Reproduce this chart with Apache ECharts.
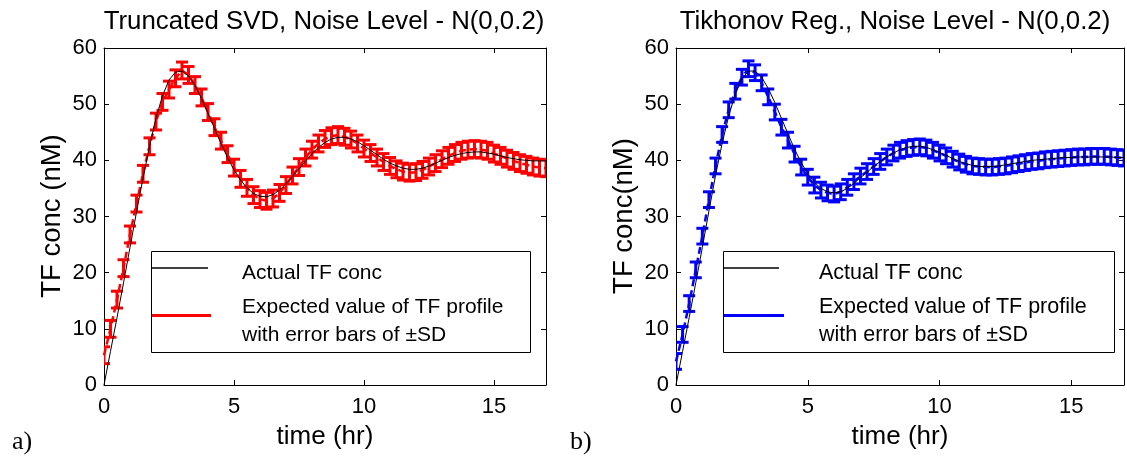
<!DOCTYPE html>
<html>
<head>
<meta charset="utf-8">
<script src="https://cdn.jsdelivr.net/npm/echarts@6/dist/echarts.min.js"></script>
<style>
html,body{margin:0;padding:0;background:#fff;}
#chart{width:1127px;height:465px;}
</style>
</head>
<body>
<div id="chart"></div>
<script>
// time grid (hr)
var timeHr = [0,0.25,0.5,0.75,1,1.25,1.5,1.75,2,2.25,2.5,2.75,3,3.25,3.5,3.75,4,4.25,4.5,4.75,5,5.25,5.5,5.75,6,6.25,6.5,6.75,7,7.25,7.5,7.75,8,8.25,8.5,8.75,9,9.25,9.5,9.75,10,10.25,10.5,10.75,11,11.25,11.5,11.75,12,12.25,12.5,12.75,13,13.25,13.5,13.75,14,14.25,14.5,14.75,15,15.25,15.5,15.75,16,16.25,16.5,16.75,17];

// a) Truncated SVD
var actualA = [0,6.0,12.0,18.2,24.5,30.8,36.8,42.5,47.5,51.5,54.3,55.7,55.9,55.0,53.3,51.0,48.4,45.7,43.0,40.5,38.3,36.5,35.1,34.1,33.6,33.5,33.9,34.7,35.8,37.1,38.5,39.9,41.2,42.3,43.2,43.8,44.1,44.1,43.8,43.3,42.6,41.8,41.0,40.2,39.5,39.0,38.6,38.4,38.4,38.6,39.0,39.5,40.0,40.5,40.9,41.2,41.4,41.5,41.5,41.3,41.1,40.8,40.5,40.3,40.1,40.0,39.9,39.9,39.9];
var expectedA = [5.3,10.0,15.2,20.8,26.8,32.3,37.6,42.5,46.9,50.4,52.6,54.6,56.0,55.2,53.4,51.2,48.6,45.9,43.5,41.1,38.7,36.7,35.1,33.8,33.1,32.8,33.2,34.2,35.6,37.3,38.8,40.5,41.9,43.0,43.8,44.3,44.5,44.2,43.7,43.0,42.1,41.3,40.5,39.7,39.0,38.4,38.0,37.8,37.9,38.3,38.9,39.5,40.2,40.8,41.3,41.7,41.9,42.0,41.9,41.7,41.2,40.8,40.3,39.9,39.5,39.2,38.9,38.7,38.6];
var sdA = 1.5;

// b) Tikhonov Reg.
var actualB = [0,6.0,12.0,18.2,24.5,31.0,37.3,43.0,47.9,51.8,54.5,55.9,55.9,54.8,52.8,50.3,47.5,44.7,42.0,39.6,37.6,36.1,35.0,34.4,34.2,34.4,35.0,35.9,36.9,37.9,38.9,39.8,40.6,41.3,41.9,42.3,42.5,42.5,42.3,41.9,41.4,40.9,40.3,39.8,39.4,39.1,38.9,38.9,38.9,39.0,39.2,39.4,39.6,39.8,40.0,40.1,40.2,40.3,40.4,40.5,40.5,40.6,40.6,40.6,40.6,40.6,40.6,40.5,40.5];
var expectedB = [4.2,9.0,14.5,20.5,26.5,33.0,39.0,44.6,49.0,52.3,54.8,56.3,55.6,53.8,51.3,48.6,45.9,43.6,41.1,38.8,37.0,35.6,34.7,34.2,34.0,34.4,35.2,36.2,37.2,38.0,38.9,39.8,40.6,41.3,41.8,42.1,42.3,42.4,42.2,41.8,41.3,40.8,40.2,39.7,39.3,39.0,38.9,38.8,38.8,38.9,39.0,39.2,39.4,39.6,39.8,39.9,40.1,40.2,40.3,40.4,40.5,40.6,40.6,40.7,40.7,40.7,40.6,40.5,40.4];
var sdB = 1.4;

var xTicks = [0,5,10,15];
var yTicks = [0,10,20,30,40,50,60];

var titles = ['Truncated SVD, Noise Level - N(0,0.2)', 'Tikhonov Reg., Noise Level - N(0,0.2)'];
var yNames = ['TF conc (nM)', 'TF conc(nM)'];
var xName = 'time (hr)';
var legendTexts = ['Actual TF conc', 'Expected value of TF profile', 'with error bars of \u00B1SD'];
var panelTags = ['a)', 'b)'];

var FONT = "'Liberation Sans', Arial, sans-serif";

function hasFont(name){
  var c = document.createElement('canvas').getContext('2d');
  var s = 'TF conc abc 0123456789';
  c.font = '40px monospace'; var w1 = c.measureText(s).width;
  c.font = "40px '" + name + "', monospace"; var w2 = c.measureText(s).width;
  return Math.abs(w1 - w2) > 1;
}
var narrow = hasFont('Liberation Sans Narrow');
var TICK_FONT = narrow ? "'Liberation Sans Narrow', 'Liberation Sans', Arial, sans-serif" : FONT;
var TICK_SIZE = narrow ? 25 : 22;
var X_MARGIN = narrow ? 10 : 11;

function pairs(xs, ys){ return xs.map(function(x,i){ return [x, ys[i]]; }); }
function errData(xs, ys, sd){ return xs.map(function(x,i){ return [x, ys[i]-sd, ys[i]+sd]; }); }

function errRender(color){
  return function(params, api){
    var x = api.value(0), lo = api.value(1), hi = api.value(2);
    var pLo = api.coord([x, lo]), pHi = api.coord([x, hi]);
    var w = 6;
    return {type:'group', children:[
      {type:'line', shape:{x1:pLo[0],y1:pLo[1],x2:pHi[0],y2:pHi[1]}, style:{stroke:color, lineWidth:3}},
      {type:'line', shape:{x1:pLo[0]-w,y1:pLo[1],x2:pLo[0]+w,y2:pLo[1]}, style:{stroke:color, lineWidth:3}},
      {type:'line', shape:{x1:pHi[0]-w,y1:pHi[1],x2:pHi[0]+w,y2:pHi[1]}, style:{stroke:color, lineWidth:3}}
    ]};
  };
}

function xAx(gi, pos, showLabel){
  return {type:'value', gridIndex:gi, position:pos, min:0, max:17, interval:5,
    axisLine:{show:true, onZero:false, lineStyle:{color:'#000', width:1}},
    axisTick:{show:true, inside:true, length:5, lineStyle:{color:'#000'}},
    axisLabel:{show:showLabel, margin:X_MARGIN, color:'#000', fontFamily:TICK_FONT, fontSize:TICK_SIZE,
      formatter:function(v){ return xTicks.indexOf(v) >= 0 ? String(v) : ''; }},
    splitLine:{show:false}};
}
function yAx(gi, pos, showLabel){
  return {type:'value', gridIndex:gi, position:pos, min:0, max:60, interval:10,
    axisLine:{show:true, onZero:false, lineStyle:{color:'#000', width:1}},
    axisTick:{show:true, inside:true, length:5, lineStyle:{color:'#000'}},
    axisLabel:{show:showLabel, margin:7, color:'#000', fontFamily:TICK_FONT, fontSize:TICK_SIZE,
      formatter:function(v){ return yTicks.indexOf(v) >= 0 ? String(v) : ''; }},
    splitLine:{show:false}};
}

var grids = [
  {left:104, top:48, width:442, height:337},
  {left:676, top:48, width:449, height:337}
];

var panels = [
  {actual:actualA, expected:expectedA, sd:sdA, color:'#ff0000'},
  {actual:actualB, expected:expectedB, sd:sdB, color:'#0000ff'}
];

var xAxes = [], yAxes = [], series = [], graphics = [];
panels.forEach(function(p, gi){
  xAxes.push(xAx(gi, 'bottom', true));
  xAxes.push(xAx(gi, 'top', false));
  yAxes.push(yAx(gi, 'left', true));
  yAxes.push(yAx(gi, 'right', false));
  var xi = gi*2, yi = gi*2;
  series.push({type:'custom', name:'err'+gi, xAxisIndex:xi, yAxisIndex:yi, clip:true, z:2,
    renderItem:errRender(p.color), encode:{x:0, y:[1,2]}, data:errData(timeHr, p.expected, p.sd), silent:true});
  series.push({type:'line', name:'exp'+gi, xAxisIndex:xi, yAxisIndex:yi, symbol:'none', z:3,
    lineStyle:{color:p.color, width:2.5, type:[7,4]}, data:pairs(timeHr, p.expected), silent:true, animation:false});
  series.push({type:'line', name:'act'+gi, xAxisIndex:xi, yAxisIndex:yi, symbol:'none', z:4,
    lineStyle:{color:'#000', width:1}, data:pairs(timeHr, p.actual), silent:true, animation:false});
});

// titles, axis names, legends, panel tags
var layout = [
  {titleX:324, xNameX:325, yNameX:52, legend:{x:151, y:251, w:379, h:101, lineX1:152, lineX2:208, line2X2:211, textX:242, fs:21}, tagX:12},
  {titleX:895, xNameX:900, yNameX:624, legend:{x:723, y:251, w:391, h:101, lineX1:724, lineX2:779, line2X2:784, textX:819, fs:21.5}, tagX:570}
];
layout.forEach(function(L, gi){
  var col = panels[gi].color;
  graphics.push({type:'text', x:L.titleX, y:22, z:10,
    style:{text:titles[gi], textAlign:'center', textVerticalAlign:'middle', font:'25.8px '+FONT, fill:'#000'}});
  graphics.push({type:'text', x:L.xNameX, y:437, z:10,
    style:{text:xName, textAlign:'center', textVerticalAlign:'middle', font:'26px '+FONT, fill:'#000'}});
  graphics.push({type:'text', x:L.yNameX, y:216, rotation:Math.PI/2, z:10,
    style:{text:yNames[gi], textAlign:'center', textVerticalAlign:'middle', font:'27.5px '+FONT, fill:'#000'}});
  graphics.push({type:'text', x:L.tagX, y:442, z:10,
    style:{text:panelTags[gi], textAlign:'left', textVerticalAlign:'middle', font:"26px 'Liberation Serif', 'Times New Roman', serif", fill:'#000'}});
  var g = L.legend;
  graphics.push({type:'rect', z:20, shape:{x:g.x+0.5, y:g.y+0.5, width:g.w, height:g.h}, style:{fill:'#fff', stroke:'#000', lineWidth:1}});
  graphics.push({type:'line', z:21, shape:{x1:g.lineX1, y1:268, x2:g.lineX2, y2:268}, style:{stroke:'#000', lineWidth:1.6}});
  graphics.push({type:'line', z:21, shape:{x1:g.lineX1, y1:315.5, x2:g.line2X2, y2:315.5}, style:{stroke:col, lineWidth:3}});
  graphics.push({type:'text', z:21, x:g.textX, y:273, style:{text:legendTexts[0], textAlign:'left', textVerticalAlign:'middle', font:g.fs+'px '+FONT, fill:'#000'}});
  graphics.push({type:'text', z:21, x:g.textX, y:307, style:{text:legendTexts[1], textAlign:'left', textVerticalAlign:'middle', font:g.fs+'px '+FONT, fill:'#000'}});
  graphics.push({type:'text', z:21, x:g.textX, y:335, style:{text:legendTexts[2], textAlign:'left', textVerticalAlign:'middle', font:g.fs+'px '+FONT, fill:'#000'}});
});

var chart = echarts.init(document.getElementById('chart'), null, {renderer:'canvas'});
chart.setOption({
  animation:false,
  backgroundColor:'#fff',
  grid:grids,
  xAxis:xAxes,
  yAxis:yAxes,
  series:series,
  graphic:graphics
});
</script>
</body>
</html>
